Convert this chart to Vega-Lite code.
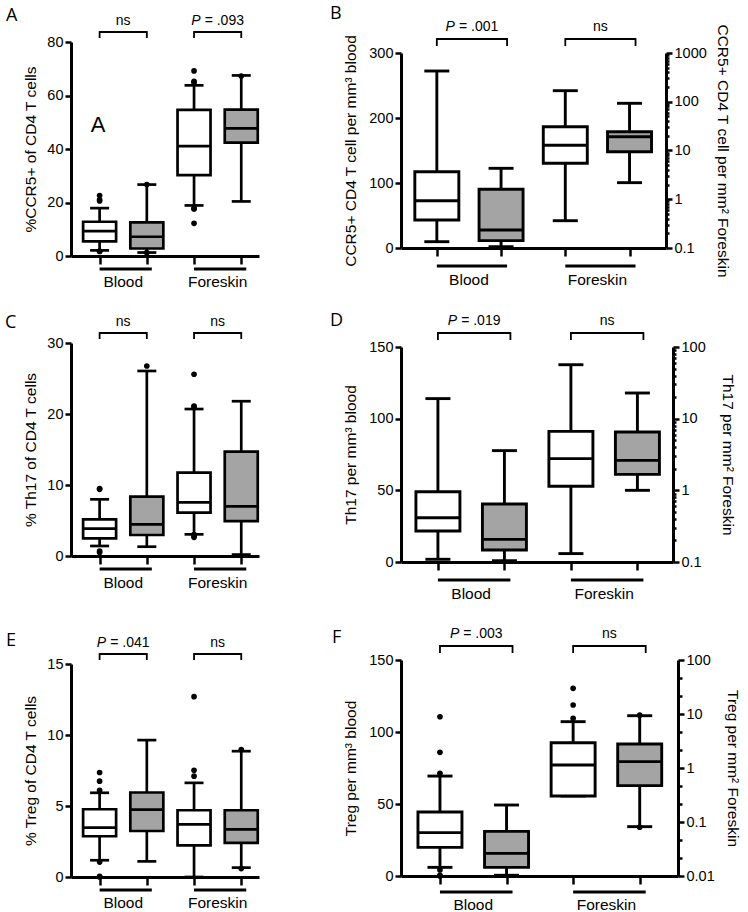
{
"$schema":"https://vega.github.io/schema/vega-lite/v6.json",
"padding":{"left":4,"top":5,"right":2,"bottom":0},
"config":{"view":{"stroke":null},"font":"Liberation Sans",
"axis":{"domainColor":"black","domainWidth":3,"tickColor":"black","tickWidth":2.5,"tickSize":6,"labelColor":"black","labelFontSize":14.5,"labelFont":"Liberation Sans","titleFont":"Liberation Sans","titleFontSize":15.5,"titleFontWeight":"normal","titleColor":"black","grid":false,"labelPadding":2}},
"datasets":{
"boxes":[
{"panel":"A","pos":1,"hatch":0,"min":2.1,"q1":5.5,"med":9.3,"q3":12.8,"max":17.9},
{"panel":"A","pos":2,"hatch":1,"min":1.3,"q1":2.8,"med":7.2,"q3":12.6,"max":26.7},
{"panel":"A","pos":3,"hatch":0,"min":18.9,"q1":30.2,"med":41.1,"q3":54.6,"max":63.8},
{"panel":"A","pos":4,"hatch":1,"min":20.4,"q1":42.4,"med":47.7,"q3":54.7,"max":67.5},
{"panel":"B","pos":1,"hatch":0,"min":9.7,"q1":43.1,"med":72.8,"q3":117.4,"max":272.3},
{"panel":"B","pos":2,"hatch":1,"min":2.0,"q1":11.3,"med":27.7,"q3":90.3,"max":122.6},
{"panel":"B","pos":3,"hatch":0,"min":0.363,"q1":5.46,"med":12.8,"q3":30.8,"max":168.6},
{"panel":"B","pos":4,"hatch":1,"min":2.19,"q1":9.45,"med":19.2,"q3":24.3,"max":92.9},
{"panel":"C","pos":1,"hatch":0,"min":1.41,"q1":2.49,"med":3.85,"q3":5.17,"max":7.98},
{"panel":"C","pos":2,"hatch":1,"min":1.31,"q1":2.96,"med":4.46,"q3":8.36,"max":26.06},
{"panel":"C","pos":3,"hatch":0,"min":3.05,"q1":6.1,"med":7.56,"q3":11.73,"max":20.7},
{"panel":"C","pos":4,"hatch":1,"min":0.2,"q1":4.9,"med":7.0,"q3":14.7,"max":21.8},
{"panel":"D","pos":1,"hatch":0,"min":1.9,"q1":21.6,"med":30.9,"q3":49.0,"max":114},
{"panel":"D","pos":2,"hatch":1,"min":0.9,"q1":8.4,"med":15.8,"q3":40.5,"max":77.7},
{"panel":"D","pos":3,"hatch":0,"min":0.131,"q1":1.14,"med":2.77,"q3":6.65,"max":56.6},
{"panel":"D","pos":4,"hatch":1,"min":1.0,"q1":1.67,"med":2.62,"q3":6.52,"max":22.8},
{"panel":"E","pos":1,"hatch":0,"min":1.18,"q1":2.87,"med":3.48,"q3":4.77,"max":5.93},
{"panel":"E","pos":2,"hatch":1,"min":1.1,"q1":3.24,"med":4.75,"q3":5.95,"max":9.64},
{"panel":"E","pos":3,"hatch":0,"min":0.0,"q1":2.23,"med":3.71,"q3":4.7,"max":6.63},
{"panel":"E","pos":4,"hatch":1,"min":0.66,"q1":2.4,"med":3.36,"q3":4.7,"max":8.86},
{"panel":"F","pos":1,"hatch":0,"min":6.0,"q1":19.9,"med":30.1,"q3":44.4,"max":69.4},
{"panel":"F","pos":2,"hatch":1,"min":0.5,"q1":6.0,"med":15.7,"q3":31.0,"max":49.3},
{"panel":"F","pos":3,"hatch":0,"min":0.303,"q1":0.303,"med":1.14,"q3":2.94,"max":7.21},
{"panel":"F","pos":4,"hatch":1,"min":0.082,"q1":0.471,"med":1.31,"q3":2.78,"max":9.3}
],
"outliers":[
{"panel":"A","pos":1,"v":22.6},{"panel":"A","pos":1,"v":20.6},{"panel":"A","pos":1,"v":21.0},{"panel":"A","pos":1,"v":1.8},{"panel":"A","pos":1,"v":1.7},
{"panel":"A","pos":2,"v":26.7},{"panel":"A","pos":2,"v":1.25},
{"panel":"A","pos":3,"v":69.2},{"panel":"A","pos":3,"v":65.3},{"panel":"A","pos":3,"v":64.8},{"panel":"A","pos":3,"v":17.8},{"panel":"A","pos":3,"v":17.6},{"panel":"A","pos":3,"v":12.2},
{"panel":"A","pos":4,"v":67.3},
{"panel":"C","pos":1,"v":9.39},{"panel":"C","pos":1,"v":9.5},{"panel":"C","pos":1,"v":0.7},{"panel":"C","pos":1,"v":0.5},
{"panel":"C","pos":2,"v":26.76},
{"panel":"C","pos":3,"v":21.0},{"panel":"C","pos":3,"v":21.1},{"panel":"C","pos":3,"v":25.6},{"panel":"C","pos":3,"v":2.63},{"panel":"C","pos":3,"v":3.0},{"panel":"C","pos":3,"v":2.9},
{"panel":"E","pos":1,"v":6.1},{"panel":"E","pos":1,"v":6.75},{"panel":"E","pos":1,"v":7.36},{"panel":"E","pos":1,"v":1.05},{"panel":"E","pos":1,"v":0.05},{"panel":"E","pos":1,"v":0.0},
{"panel":"E","pos":3,"v":7.1},{"panel":"E","pos":3,"v":7.52},{"panel":"E","pos":3,"v":12.7},
{"panel":"E","pos":4,"v":8.98},{"panel":"E","pos":4,"v":0.59},
{"panel":"F","pos":1,"v":71.3},{"panel":"F","pos":1,"v":85.9},{"panel":"F","pos":1,"v":110.6},{"panel":"F","pos":1,"v":4.2},{"panel":"F","pos":1,"v":0.5},{"panel":"F","pos":1,"v":0.0},
{"panel":"F","pos":3,"v":8.3},{"panel":"F","pos":3,"v":14.7},{"panel":"F","pos":3,"v":29.9},
{"panel":"F","pos":4,"v":9.5},{"panel":"F","pos":4,"v":0.08}
],
"brackets":[
{"panel":"A","a":1,"b":2,"c":1.5,"ital":"","txt":"ns"},
{"panel":"A","a":3,"b":4,"c":3.5,"ital":"P","txt":"= .093"},
{"panel":"B","a":1,"b":2,"c":1.5,"ital":"P","txt":"= .001"},
{"panel":"B","a":3,"b":4,"c":3.5,"ital":"","txt":"ns"},
{"panel":"C","a":1,"b":2,"c":1.5,"ital":"","txt":"ns"},
{"panel":"C","a":3,"b":4,"c":3.5,"ital":"","txt":"ns"},
{"panel":"D","a":1,"b":2,"c":1.5,"ital":"P","txt":"= .019"},
{"panel":"D","a":3,"b":4,"c":3.5,"ital":"","txt":"ns"},
{"panel":"E","a":1,"b":2,"c":1.5,"ital":"P","txt":"= .041"},
{"panel":"E","a":3,"b":4,"c":3.5,"ital":"","txt":"ns"},
{"panel":"F","a":1,"b":2,"c":1.5,"ital":"P","txt":"= .003"},
{"panel":"F","a":3,"b":4,"c":3.5,"ital":"","txt":"ns"}
],
"groups":[{"g":"Blood","a":1,"b":2,"c":1.5},{"g":"Foreskin","a":3,"b":4,"c":3.5}]
},
"columns":2,
"bounds":"flush",
"spacing":{"row":40,"column":142},
"concat":[
{"width":188,"height":214,
"layer":[
{"data":{"name":"boxes"},"transform":[{"filter":"datum.panel=='A'"}],"mark":{"type":"rule","strokeWidth":2.7,"color":"black"},
"encoding":{"x":{"field":"pos","type":"quantitative","scale":{"domain":[0.5,4.27],"nice":false,"zero":false},"axis":{"values":[1,2,3,4],"labels":false,"title":null,"tickSize":8}},
"y":{"field":"min","type":"quantitative","scale":{"domain":[0,80],"nice":false},"axis":{"values":[0,20,40,60,80],"title":"%CCR5+ of CD4 T cells","titlePadding":8}},"y2":{"field":"max"}}},
{"data":{"name":"boxes"},"transform":[{"filter":"datum.panel=='A'"}],"mark":{"type":"tick","orient":"horizontal","size":19,"thickness":2.7,"color":"black","opacity":1},"encoding":{"x":{"field":"pos","type":"quantitative"},"y":{"field":"min","type":"quantitative"}}},
{"data":{"name":"boxes"},"transform":[{"filter":"datum.panel=='A'"}],"mark":{"type":"tick","orient":"horizontal","size":19,"thickness":2.7,"color":"black","opacity":1},"encoding":{"x":{"field":"pos","type":"quantitative"},"y":{"field":"max","type":"quantitative"}}},
{"data":{"name":"boxes"},"transform":[{"filter":"datum.panel=='A'"}],"mark":{"type":"bar","width":33,"stroke":"black","strokeWidth":2.7,"opacity":1},"encoding":{"x":{"field":"pos","type":"quantitative"},"y":{"field":"q1","type":"quantitative"},"y2":{"field":"q3"},"fill":{"condition":{"test":"datum.hatch==1","value":"#a4a4a4"},"value":"white"}}},
{"data":{"name":"boxes"},"transform":[{"filter":"datum.panel=='A'"}],"mark":{"type":"tick","orient":"horizontal","size":33,"thickness":2.7,"color":"black","opacity":1},"encoding":{"x":{"field":"pos","type":"quantitative"},"y":{"field":"med","type":"quantitative"}}},
{"data":{"name":"outliers"},"transform":[{"filter":"datum.panel=='A'"}],"mark":{"type":"point","filled":true,"size":32,"color":"black","opacity":1},"encoding":{"x":{"field":"pos","type":"quantitative"},"y":{"field":"v","type":"quantitative"}}},
{"data":{"name":"groups"},"mark":{"type":"rule","strokeWidth":3,"color":"black","yOffset":13,"x2Offset":5},"encoding":{"x":{"field":"a","type":"quantitative"},"x2":{"field":"b"},"y":{"datum":0,"type":"quantitative"}}},
{"data":{"name":"groups"},"mark":{"type":"text","fontSize":15.5,"yOffset":26,"baseline":"middle","color":"black"},"encoding":{"x":{"field":"c","type":"quantitative"},"y":{"datum":0,"type":"quantitative"},"text":{"field":"g"}}},
{"data":{"name":"brackets"},"transform":[{"filter":"datum.panel=='A'"}],"mark":{"type":"rule","strokeWidth":1.8,"color":"black","yOffset":-10},"encoding":{"x":{"field":"a","type":"quantitative"},"x2":{"field":"b"},"y":{"datum":80,"type":"quantitative"}}},
{"data":{"name":"brackets"},"transform":[{"filter":"datum.panel=='A'"}],"mark":{"type":"rule","strokeWidth":1.8,"color":"black","yOffset":-10.9,"y2Offset":-4},"encoding":{"x":{"field":"a","type":"quantitative"},"y":{"datum":80,"type":"quantitative"},"y2":{"datum":80}}},
{"data":{"name":"brackets"},"transform":[{"filter":"datum.panel=='A'"}],"mark":{"type":"rule","strokeWidth":1.8,"color":"black","yOffset":-10.9,"y2Offset":-4},"encoding":{"x":{"field":"b","type":"quantitative"},"y":{"datum":80,"type":"quantitative"},"y2":{"datum":80}}},
{"data":{"name":"brackets"},"transform":[{"filter":"datum.panel=='A' && datum.ital==''"}],"mark":{"type":"text","fontSize":14,"yOffset":-14,"baseline":"bottom","color":"black"},"encoding":{"x":{"field":"c","type":"quantitative"},"y":{"datum":80,"type":"quantitative"},"text":{"field":"txt"}}},
{"data":{"name":"brackets"},"transform":[{"filter":"datum.panel=='A' && datum.ital=='P'"}],"mark":{"type":"text","fontSize":14,"fontStyle":"italic","align":"right","dx":-17,"yOffset":-14,"baseline":"bottom","color":"black"},"encoding":{"x":{"field":"c","type":"quantitative"},"y":{"datum":80,"type":"quantitative"},"text":{"field":"ital"}}},
{"data":{"name":"brackets"},"transform":[{"filter":"datum.panel=='A' && datum.ital=='P'"}],"mark":{"type":"text","fontSize":14,"align":"left","dx":-13,"yOffset":-14,"baseline":"bottom","color":"black"},"encoding":{"x":{"field":"c","type":"quantitative"},"y":{"datum":80,"type":"quantitative"},"text":{"field":"txt"}}},
{"data":{"values":[{"t":"A"}]},"mark":{"type":"text","fontSize":22,"baseline":"middle","color":"black"},"encoding":{"x":{"datum":0.97,"type":"quantitative"},"y":{"datum":49,"type":"quantitative"},"text":{"field":"t"}}},
{"data":{"values":[{"t":"A"}]},"mark":{"type":"text","font":"Open Sans","fontSize":18,"align":"left","baseline":"alphabetic","dx":-70,"dy":-21,"color":"black"},"encoding":{"x":{"datum":0.5,"type":"quantitative"},"y":{"datum":80,"type":"quantitative"},"text":{"field":"t"}}}
]},
{"width":265,"height":206,"resolve":{"scale":{"y":"independent"}},
"layer":[
{"layer":[
{"data":{"name":"boxes"},"transform":[{"filter":"datum.panel=='B' && datum.pos<=2"}],"mark":{"type":"rule","strokeWidth":2.9,"color":"black"},
"encoding":{"x":{"field":"pos","type":"quantitative","scale":{"domain":[0.52,4.49],"nice":false,"zero":false},"axis":{"values":[1,2,3,4],"labels":false,"title":null,"tickSize":8}},
"y":{"field":"min","type":"quantitative","scale":{"domain":[0,300],"nice":false,"range":[206,11]},"axis":{"orient":"left","values":[0,100,200,300],"title":"CCR5+ CD4 T cell per mm³ blood","titlePadding":10}},"y2":{"field":"max"}}},
{"data":{"name":"boxes"},"transform":[{"filter":"datum.panel=='B' && datum.pos<=2"}],"mark":{"type":"tick","orient":"horizontal","size":25,"thickness":2.9,"color":"black","opacity":1},"encoding":{"x":{"field":"pos","type":"quantitative"},"y":{"field":"min","type":"quantitative"}}},
{"data":{"name":"boxes"},"transform":[{"filter":"datum.panel=='B' && datum.pos<=2"}],"mark":{"type":"tick","orient":"horizontal","size":25,"thickness":2.9,"color":"black","opacity":1},"encoding":{"x":{"field":"pos","type":"quantitative"},"y":{"field":"max","type":"quantitative"}}},
{"data":{"name":"boxes"},"transform":[{"filter":"datum.panel=='B' && datum.pos<=2"}],"mark":{"type":"bar","width":44,"stroke":"black","strokeWidth":2.9,"opacity":1},"encoding":{"x":{"field":"pos","type":"quantitative"},"y":{"field":"q1","type":"quantitative"},"y2":{"field":"q3"},"fill":{"condition":{"test":"datum.hatch==1","value":"#a4a4a4"},"value":"white"}}},
{"data":{"name":"boxes"},"transform":[{"filter":"datum.panel=='B' && datum.pos<=2"}],"mark":{"type":"tick","orient":"horizontal","size":44,"thickness":2.9,"color":"black","opacity":1},"encoding":{"x":{"field":"pos","type":"quantitative"},"y":{"field":"med","type":"quantitative"}}},
{"data":{"name":"groups"},"mark":{"type":"rule","strokeWidth":3,"color":"black","yOffset":18,"x2Offset":6},"encoding":{"x":{"field":"a","type":"quantitative"},"x2":{"field":"b"},"y":{"datum":0,"type":"quantitative"}}},
{"data":{"name":"groups"},"mark":{"type":"text","fontSize":15.5,"yOffset":32,"baseline":"middle","color":"black"},"encoding":{"x":{"field":"c","type":"quantitative"},"y":{"datum":0,"type":"quantitative"},"text":{"field":"g"}}},
{"data":{"name":"brackets"},"transform":[{"filter":"datum.panel=='B'"}],"mark":{"type":"rule","strokeWidth":1.8,"color":"black","yOffset":-14,"x2Offset":6},"encoding":{"x":{"field":"a","type":"quantitative"},"x2":{"field":"b"},"y":{"datum":300,"type":"quantitative"}}},
{"data":{"name":"brackets"},"transform":[{"filter":"datum.panel=='B'"}],"mark":{"type":"rule","strokeWidth":1.8,"color":"black","yOffset":-14.9,"y2Offset":-7},"encoding":{"x":{"field":"a","type":"quantitative"},"y":{"datum":300,"type":"quantitative"},"y2":{"datum":300}}},
{"data":{"name":"brackets"},"transform":[{"filter":"datum.panel=='B'"}],"mark":{"type":"rule","strokeWidth":1.8,"color":"black","yOffset":-14.9,"y2Offset":-7,"xOffset":6},"encoding":{"x":{"field":"b","type":"quantitative"},"y":{"datum":300,"type":"quantitative"},"y2":{"datum":300}}},
{"data":{"name":"brackets"},"transform":[{"filter":"datum.panel=='B' && datum.ital==''"}],"mark":{"type":"text","fontSize":14,"yOffset":-19,"dx":3,"baseline":"bottom","color":"black"},"encoding":{"x":{"field":"c","type":"quantitative"},"y":{"datum":300,"type":"quantitative"},"text":{"field":"txt"}}},
{"data":{"name":"brackets"},"transform":[{"filter":"datum.panel=='B' && datum.ital=='P'"}],"mark":{"type":"text","fontSize":14,"fontStyle":"italic","align":"right","dx":-14,"yOffset":-19,"baseline":"bottom","color":"black"},"encoding":{"x":{"field":"c","type":"quantitative"},"y":{"datum":300,"type":"quantitative"},"text":{"field":"ital"}}},
{"data":{"name":"brackets"},"transform":[{"filter":"datum.panel=='B' && datum.ital=='P'"}],"mark":{"type":"text","fontSize":14,"align":"left","dx":-10,"yOffset":-19,"baseline":"bottom","color":"black"},"encoding":{"x":{"field":"c","type":"quantitative"},"y":{"datum":300,"type":"quantitative"},"text":{"field":"txt"}}},
{"data":{"values":[{"t":"B"}]},"mark":{"type":"text","font":"Open Sans","fontSize":18,"align":"left","baseline":"alphabetic","dx":-76,"dy":-34,"color":"black"},"encoding":{"x":{"datum":0.52,"type":"quantitative"},"y":{"datum":300,"type":"quantitative"},"text":{"field":"t"}}}
]},
{"layer":[
{"data":{"name":"boxes"},"transform":[{"filter":"datum.panel=='B' && datum.pos>=3"}],"mark":{"type":"rule","strokeWidth":2.9,"color":"black"},
"encoding":{"x":{"field":"pos","type":"quantitative"},
"y":{"field":"min","type":"quantitative","scale":{"type":"log","domain":[0.1,1000],"nice":false,"range":[206,11]},"axis":{"orient":"right","values":[0.1,0.2,0.3,0.4,0.5,0.6,0.7,0.8,0.9,1,2,3,4,5,6,7,8,9,10,20,30,40,50,60,70,80,90,100,200,300,400,500,600,700,800,900,1000],"labelExpr":"abs(log(datum.value)/LN10-round(log(datum.value)/LN10))<0.001 ? format(datum.value,'') : ''","labelOverlap":false,"tickSize":{"condition":{"test":"abs(log(datum.value)/LN10-round(log(datum.value)/LN10))<0.001","value":6},"value":3},"title":"CCR5+ CD4 T cell per mm² Foreskin","titlePadding":8}},"y2":{"field":"max"}}},
{"data":{"name":"boxes"},"transform":[{"filter":"datum.panel=='B' && datum.pos>=3"}],"mark":{"type":"tick","orient":"horizontal","size":25,"thickness":2.9,"color":"black","opacity":1},"encoding":{"x":{"field":"pos","type":"quantitative"},"y":{"field":"min","type":"quantitative"}}},
{"data":{"name":"boxes"},"transform":[{"filter":"datum.panel=='B' && datum.pos>=3"}],"mark":{"type":"tick","orient":"horizontal","size":25,"thickness":2.9,"color":"black","opacity":1},"encoding":{"x":{"field":"pos","type":"quantitative"},"y":{"field":"max","type":"quantitative"}}},
{"data":{"name":"boxes"},"transform":[{"filter":"datum.panel=='B' && datum.pos>=3"}],"mark":{"type":"bar","width":44,"stroke":"black","strokeWidth":2.9,"opacity":1},"encoding":{"x":{"field":"pos","type":"quantitative"},"y":{"field":"q1","type":"quantitative"},"y2":{"field":"q3"},"fill":{"condition":{"test":"datum.hatch==1","value":"#a4a4a4"},"value":"white"}}},
{"data":{"name":"boxes"},"transform":[{"filter":"datum.panel=='B' && datum.pos>=3"}],"mark":{"type":"tick","orient":"horizontal","size":44,"thickness":2.9,"color":"black","opacity":1},"encoding":{"x":{"field":"pos","type":"quantitative"},"y":{"field":"med","type":"quantitative"}}}
]}
]},
{"width":188,"height":260,
"layer":[
{"data":{"name":"boxes"},"transform":[{"filter":"datum.panel=='C'"}],"mark":{"type":"rule","strokeWidth":2.7,"color":"black"},
"encoding":{"x":{"field":"pos","type":"quantitative","scale":{"domain":[0.5,4.27],"nice":false,"zero":false},"axis":{"values":[1,2,3,4],"labels":false,"title":null,"tickSize":8}},
"y":{"field":"min","type":"quantitative","scale":{"domain":[0,30],"nice":false,"range":[260,47]},"axis":{"values":[0,10,20,30],"title":"% Th17 of CD4 T cells","titlePadding":8}},"y2":{"field":"max"}}},
{"data":{"name":"boxes"},"transform":[{"filter":"datum.panel=='C'"}],"mark":{"type":"tick","orient":"horizontal","size":19,"thickness":2.7,"color":"black","opacity":1},"encoding":{"x":{"field":"pos","type":"quantitative"},"y":{"field":"min","type":"quantitative"}}},
{"data":{"name":"boxes"},"transform":[{"filter":"datum.panel=='C'"}],"mark":{"type":"tick","orient":"horizontal","size":19,"thickness":2.7,"color":"black","opacity":1},"encoding":{"x":{"field":"pos","type":"quantitative"},"y":{"field":"max","type":"quantitative"}}},
{"data":{"name":"boxes"},"transform":[{"filter":"datum.panel=='C'"}],"mark":{"type":"bar","width":33,"stroke":"black","strokeWidth":2.7,"opacity":1},"encoding":{"x":{"field":"pos","type":"quantitative"},"y":{"field":"q1","type":"quantitative"},"y2":{"field":"q3"},"fill":{"condition":{"test":"datum.hatch==1","value":"#a4a4a4"},"value":"white"}}},
{"data":{"name":"boxes"},"transform":[{"filter":"datum.panel=='C'"}],"mark":{"type":"tick","orient":"horizontal","size":33,"thickness":2.7,"color":"black","opacity":1},"encoding":{"x":{"field":"pos","type":"quantitative"},"y":{"field":"med","type":"quantitative"}}},
{"data":{"name":"outliers"},"transform":[{"filter":"datum.panel=='C'"}],"mark":{"type":"point","filled":true,"size":32,"color":"black","opacity":1},"encoding":{"x":{"field":"pos","type":"quantitative"},"y":{"field":"v","type":"quantitative"}}},
{"data":{"name":"groups"},"mark":{"type":"rule","strokeWidth":3,"color":"black","yOffset":13,"x2Offset":5},"encoding":{"x":{"field":"a","type":"quantitative"},"x2":{"field":"b"},"y":{"datum":0,"type":"quantitative"}}},
{"data":{"name":"groups"},"mark":{"type":"text","fontSize":15.5,"yOffset":27,"baseline":"middle","color":"black"},"encoding":{"x":{"field":"c","type":"quantitative"},"y":{"datum":0,"type":"quantitative"},"text":{"field":"g"}}},
{"data":{"name":"brackets"},"transform":[{"filter":"datum.panel=='C'"}],"mark":{"type":"rule","strokeWidth":1.8,"color":"black","yOffset":-10},"encoding":{"x":{"field":"a","type":"quantitative"},"x2":{"field":"b"},"y":{"datum":30,"type":"quantitative"}}},
{"data":{"name":"brackets"},"transform":[{"filter":"datum.panel=='C'"}],"mark":{"type":"rule","strokeWidth":1.8,"color":"black","yOffset":-10.9,"y2Offset":-4},"encoding":{"x":{"field":"a","type":"quantitative"},"y":{"datum":30,"type":"quantitative"},"y2":{"datum":30}}},
{"data":{"name":"brackets"},"transform":[{"filter":"datum.panel=='C'"}],"mark":{"type":"rule","strokeWidth":1.8,"color":"black","yOffset":-10.9,"y2Offset":-4},"encoding":{"x":{"field":"b","type":"quantitative"},"y":{"datum":30,"type":"quantitative"},"y2":{"datum":30}}},
{"data":{"name":"brackets"},"transform":[{"filter":"datum.panel=='C' && datum.ital==''"}],"mark":{"type":"text","fontSize":14,"yOffset":-14,"baseline":"bottom","color":"black"},"encoding":{"x":{"field":"c","type":"quantitative"},"y":{"datum":30,"type":"quantitative"},"text":{"field":"txt"}}},
{"data":{"values":[{"t":"C"}]},"mark":{"type":"text","font":"Open Sans","fontSize":18,"align":"left","baseline":"alphabetic","dx":-71,"dy":-15,"color":"black"},"encoding":{"x":{"datum":0.5,"type":"quantitative"},"y":{"datum":30,"type":"quantitative"},"text":{"field":"t"}}}
]},
{"width":272,"height":266,"resolve":{"scale":{"y":"independent"}},
"layer":[
{"layer":[
{"data":{"name":"boxes"},"transform":[{"filter":"datum.panel=='D' && datum.pos<=2"}],"mark":{"type":"rule","strokeWidth":2.9,"color":"black"},
"encoding":{"x":{"field":"pos","type":"quantitative","scale":{"domain":[0.52,4.46],"nice":false,"zero":false},"axis":{"values":[1,2,3,4],"labels":false,"title":null,"tickSize":8}},
"y":{"field":"min","type":"quantitative","scale":{"domain":[0,150],"nice":false,"range":[266,51]},"axis":{"orient":"left","values":[0,50,100,150],"title":"Th17 per mm³ blood","titlePadding":10}},"y2":{"field":"max"}}},
{"data":{"name":"boxes"},"transform":[{"filter":"datum.panel=='D' && datum.pos<=2"}],"mark":{"type":"tick","orient":"horizontal","size":25,"thickness":2.9,"color":"black","opacity":1},"encoding":{"x":{"field":"pos","type":"quantitative"},"y":{"field":"min","type":"quantitative"}}},
{"data":{"name":"boxes"},"transform":[{"filter":"datum.panel=='D' && datum.pos<=2"}],"mark":{"type":"tick","orient":"horizontal","size":25,"thickness":2.9,"color":"black","opacity":1},"encoding":{"x":{"field":"pos","type":"quantitative"},"y":{"field":"max","type":"quantitative"}}},
{"data":{"name":"boxes"},"transform":[{"filter":"datum.panel=='D' && datum.pos<=2"}],"mark":{"type":"bar","width":44,"stroke":"black","strokeWidth":2.9,"opacity":1},"encoding":{"x":{"field":"pos","type":"quantitative"},"y":{"field":"q1","type":"quantitative"},"y2":{"field":"q3"},"fill":{"condition":{"test":"datum.hatch==1","value":"#a4a4a4"},"value":"white"}}},
{"data":{"name":"boxes"},"transform":[{"filter":"datum.panel=='D' && datum.pos<=2"}],"mark":{"type":"tick","orient":"horizontal","size":44,"thickness":2.9,"color":"black","opacity":1},"encoding":{"x":{"field":"pos","type":"quantitative"},"y":{"field":"med","type":"quantitative"}}},
{"data":{"name":"groups"},"mark":{"type":"rule","strokeWidth":3,"color":"black","yOffset":18,"x2Offset":6},"encoding":{"x":{"field":"a","type":"quantitative"},"x2":{"field":"b"},"y":{"datum":0,"type":"quantitative"}}},
{"data":{"name":"groups"},"mark":{"type":"text","fontSize":15.5,"yOffset":32,"baseline":"middle","color":"black"},"encoding":{"x":{"field":"c","type":"quantitative"},"y":{"datum":0,"type":"quantitative"},"text":{"field":"g"}}},
{"data":{"name":"brackets"},"transform":[{"filter":"datum.panel=='D'"}],"mark":{"type":"rule","strokeWidth":1.8,"color":"black","yOffset":-14,"x2Offset":6},"encoding":{"x":{"field":"a","type":"quantitative"},"x2":{"field":"b"},"y":{"datum":150,"type":"quantitative"}}},
{"data":{"name":"brackets"},"transform":[{"filter":"datum.panel=='D'"}],"mark":{"type":"rule","strokeWidth":1.8,"color":"black","yOffset":-14.9,"y2Offset":-7},"encoding":{"x":{"field":"a","type":"quantitative"},"y":{"datum":150,"type":"quantitative"},"y2":{"datum":150}}},
{"data":{"name":"brackets"},"transform":[{"filter":"datum.panel=='D'"}],"mark":{"type":"rule","strokeWidth":1.8,"color":"black","yOffset":-14.9,"y2Offset":-7,"xOffset":6},"encoding":{"x":{"field":"b","type":"quantitative"},"y":{"datum":150,"type":"quantitative"},"y2":{"datum":150}}},
{"data":{"name":"brackets"},"transform":[{"filter":"datum.panel=='D' && datum.ital==''"}],"mark":{"type":"text","fontSize":14,"yOffset":-19,"dx":3,"baseline":"bottom","color":"black"},"encoding":{"x":{"field":"c","type":"quantitative"},"y":{"datum":150,"type":"quantitative"},"text":{"field":"txt"}}},
{"data":{"name":"brackets"},"transform":[{"filter":"datum.panel=='D' && datum.ital=='P'"}],"mark":{"type":"text","fontSize":14,"fontStyle":"italic","align":"right","dx":-14,"yOffset":-19,"baseline":"bottom","color":"black"},"encoding":{"x":{"field":"c","type":"quantitative"},"y":{"datum":150,"type":"quantitative"},"text":{"field":"ital"}}},
{"data":{"name":"brackets"},"transform":[{"filter":"datum.panel=='D' && datum.ital=='P'"}],"mark":{"type":"text","fontSize":14,"align":"left","dx":-10,"yOffset":-19,"baseline":"bottom","color":"black"},"encoding":{"x":{"field":"c","type":"quantitative"},"y":{"datum":150,"type":"quantitative"},"text":{"field":"txt"}}},
{"data":{"values":[{"t":"D"}]},"mark":{"type":"text","font":"Open Sans","fontSize":18,"align":"left","baseline":"alphabetic","dx":-76,"dy":-21,"color":"black"},"encoding":{"x":{"datum":0.52,"type":"quantitative"},"y":{"datum":150,"type":"quantitative"},"text":{"field":"t"}}}
]},
{"layer":[
{"data":{"name":"boxes"},"transform":[{"filter":"datum.panel=='D' && datum.pos>=3"}],"mark":{"type":"rule","strokeWidth":2.9,"color":"black"},
"encoding":{"x":{"field":"pos","type":"quantitative"},
"y":{"field":"min","type":"quantitative","scale":{"type":"log","domain":[0.1,100],"nice":false,"range":[266,51]},"axis":{"orient":"right","values":[0.1,0.2,0.3,0.4,0.5,0.6,0.7,0.8,0.9,1,2,3,4,5,6,7,8,9,10,20,30,40,50,60,70,80,90,100],"labelExpr":"abs(log(datum.value)/LN10-round(log(datum.value)/LN10))<0.001 ? format(datum.value,'') : ''","labelOverlap":false,"tickSize":{"condition":{"test":"abs(log(datum.value)/LN10-round(log(datum.value)/LN10))<0.001","value":6},"value":3},"title":"Th17 per mm² Foreskin","titlePadding":14}},"y2":{"field":"max"}}},
{"data":{"name":"boxes"},"transform":[{"filter":"datum.panel=='D' && datum.pos>=3"}],"mark":{"type":"tick","orient":"horizontal","size":25,"thickness":2.9,"color":"black","opacity":1},"encoding":{"x":{"field":"pos","type":"quantitative"},"y":{"field":"min","type":"quantitative"}}},
{"data":{"name":"boxes"},"transform":[{"filter":"datum.panel=='D' && datum.pos>=3"}],"mark":{"type":"tick","orient":"horizontal","size":25,"thickness":2.9,"color":"black","opacity":1},"encoding":{"x":{"field":"pos","type":"quantitative"},"y":{"field":"max","type":"quantitative"}}},
{"data":{"name":"boxes"},"transform":[{"filter":"datum.panel=='D' && datum.pos>=3"}],"mark":{"type":"bar","width":44,"stroke":"black","strokeWidth":2.9,"opacity":1},"encoding":{"x":{"field":"pos","type":"quantitative"},"y":{"field":"q1","type":"quantitative"},"y2":{"field":"q3"},"fill":{"condition":{"test":"datum.hatch==1","value":"#a4a4a4"},"value":"white"}}},
{"data":{"name":"boxes"},"transform":[{"filter":"datum.panel=='D' && datum.pos>=3"}],"mark":{"type":"tick","orient":"horizontal","size":44,"thickness":2.9,"color":"black","opacity":1},"encoding":{"x":{"field":"pos","type":"quantitative"},"y":{"field":"med","type":"quantitative"}}}
]}
]},
{"width":188,"height":275,
"layer":[
{"data":{"name":"boxes"},"transform":[{"filter":"datum.panel=='E'"}],"mark":{"type":"rule","strokeWidth":2.7,"color":"black"},
"encoding":{"x":{"field":"pos","type":"quantitative","scale":{"domain":[0.5,4.27],"nice":false,"zero":false},"axis":{"values":[1,2,3,4],"labels":false,"title":null,"tickSize":8}},
"y":{"field":"min","type":"quantitative","scale":{"domain":[0,15],"nice":false,"range":[275,62]},"axis":{"values":[0,5,10,15],"title":"% Treg of CD4 T cells","titlePadding":8}},"y2":{"field":"max"}}},
{"data":{"name":"boxes"},"transform":[{"filter":"datum.panel=='E'"}],"mark":{"type":"tick","orient":"horizontal","size":19,"thickness":2.7,"color":"black","opacity":1},"encoding":{"x":{"field":"pos","type":"quantitative"},"y":{"field":"min","type":"quantitative"}}},
{"data":{"name":"boxes"},"transform":[{"filter":"datum.panel=='E'"}],"mark":{"type":"tick","orient":"horizontal","size":19,"thickness":2.7,"color":"black","opacity":1},"encoding":{"x":{"field":"pos","type":"quantitative"},"y":{"field":"max","type":"quantitative"}}},
{"data":{"name":"boxes"},"transform":[{"filter":"datum.panel=='E'"}],"mark":{"type":"bar","width":33,"stroke":"black","strokeWidth":2.7,"opacity":1},"encoding":{"x":{"field":"pos","type":"quantitative"},"y":{"field":"q1","type":"quantitative"},"y2":{"field":"q3"},"fill":{"condition":{"test":"datum.hatch==1","value":"#a4a4a4"},"value":"white"}}},
{"data":{"name":"boxes"},"transform":[{"filter":"datum.panel=='E'"}],"mark":{"type":"tick","orient":"horizontal","size":33,"thickness":2.7,"color":"black","opacity":1},"encoding":{"x":{"field":"pos","type":"quantitative"},"y":{"field":"med","type":"quantitative"}}},
{"data":{"name":"outliers"},"transform":[{"filter":"datum.panel=='E'"}],"mark":{"type":"point","filled":true,"size":32,"color":"black","opacity":1},"encoding":{"x":{"field":"pos","type":"quantitative"},"y":{"field":"v","type":"quantitative"}}},
{"data":{"name":"groups"},"mark":{"type":"rule","strokeWidth":3,"color":"black","yOffset":13,"x2Offset":5},"encoding":{"x":{"field":"a","type":"quantitative"},"x2":{"field":"b"},"y":{"datum":0,"type":"quantitative"}}},
{"data":{"name":"groups"},"mark":{"type":"text","fontSize":15.5,"yOffset":26,"baseline":"middle","color":"black"},"encoding":{"x":{"field":"c","type":"quantitative"},"y":{"datum":0,"type":"quantitative"},"text":{"field":"g"}}},
{"data":{"name":"brackets"},"transform":[{"filter":"datum.panel=='E'"}],"mark":{"type":"rule","strokeWidth":1.8,"color":"black","yOffset":-10},"encoding":{"x":{"field":"a","type":"quantitative"},"x2":{"field":"b"},"y":{"datum":15,"type":"quantitative"}}},
{"data":{"name":"brackets"},"transform":[{"filter":"datum.panel=='E'"}],"mark":{"type":"rule","strokeWidth":1.8,"color":"black","yOffset":-10.9,"y2Offset":-4},"encoding":{"x":{"field":"a","type":"quantitative"},"y":{"datum":15,"type":"quantitative"},"y2":{"datum":15}}},
{"data":{"name":"brackets"},"transform":[{"filter":"datum.panel=='E'"}],"mark":{"type":"rule","strokeWidth":1.8,"color":"black","yOffset":-10.9,"y2Offset":-4},"encoding":{"x":{"field":"b","type":"quantitative"},"y":{"datum":15,"type":"quantitative"},"y2":{"datum":15}}},
{"data":{"name":"brackets"},"transform":[{"filter":"datum.panel=='E' && datum.ital==''"}],"mark":{"type":"text","fontSize":14,"yOffset":-14,"baseline":"bottom","color":"black"},"encoding":{"x":{"field":"c","type":"quantitative"},"y":{"datum":15,"type":"quantitative"},"text":{"field":"txt"}}},
{"data":{"name":"brackets"},"transform":[{"filter":"datum.panel=='E' && datum.ital=='P'"}],"mark":{"type":"text","fontSize":14,"fontStyle":"italic","align":"right","dx":-17,"yOffset":-14,"baseline":"bottom","color":"black"},"encoding":{"x":{"field":"c","type":"quantitative"},"y":{"datum":15,"type":"quantitative"},"text":{"field":"ital"}}},
{"data":{"name":"brackets"},"transform":[{"filter":"datum.panel=='E' && datum.ital=='P'"}],"mark":{"type":"text","fontSize":14,"align":"left","dx":-13,"yOffset":-14,"baseline":"bottom","color":"black"},"encoding":{"x":{"field":"c","type":"quantitative"},"y":{"datum":15,"type":"quantitative"},"text":{"field":"txt"}}},
{"data":{"values":[{"t":"E"}]},"mark":{"type":"text","font":"Open Sans","fontSize":18,"align":"left","baseline":"alphabetic","dx":-70,"dy":-18,"color":"black"},"encoding":{"x":{"datum":0.5,"type":"quantitative"},"y":{"datum":15,"type":"quantitative"},"text":{"field":"t"}}}
]},
{"width":277,"height":274,"resolve":{"scale":{"y":"independent"}},
"layer":[
{"layer":[
{"data":{"name":"boxes"},"transform":[{"filter":"datum.panel=='F' && datum.pos<=2"}],"mark":{"type":"rule","strokeWidth":2.9,"color":"black"},
"encoding":{"x":{"field":"pos","type":"quantitative","scale":{"domain":[0.49,4.5],"nice":false,"zero":false},"axis":{"values":[1,2,3,4],"labels":false,"title":null,"tickSize":8}},
"y":{"field":"min","type":"quantitative","scale":{"domain":[0,150],"nice":false,"range":[274,58]},"axis":{"orient":"left","values":[0,50,100,150],"title":"Treg per mm³ blood","titlePadding":10}},"y2":{"field":"max"}}},
{"data":{"name":"boxes"},"transform":[{"filter":"datum.panel=='F' && datum.pos<=2"}],"mark":{"type":"tick","orient":"horizontal","size":25,"thickness":2.9,"color":"black","opacity":1},"encoding":{"x":{"field":"pos","type":"quantitative"},"y":{"field":"min","type":"quantitative"}}},
{"data":{"name":"boxes"},"transform":[{"filter":"datum.panel=='F' && datum.pos<=2"}],"mark":{"type":"tick","orient":"horizontal","size":25,"thickness":2.9,"color":"black","opacity":1},"encoding":{"x":{"field":"pos","type":"quantitative"},"y":{"field":"max","type":"quantitative"}}},
{"data":{"name":"boxes"},"transform":[{"filter":"datum.panel=='F' && datum.pos<=2"}],"mark":{"type":"bar","width":44,"stroke":"black","strokeWidth":2.9,"opacity":1},"encoding":{"x":{"field":"pos","type":"quantitative"},"y":{"field":"q1","type":"quantitative"},"y2":{"field":"q3"},"fill":{"condition":{"test":"datum.hatch==1","value":"#a4a4a4"},"value":"white"}}},
{"data":{"name":"boxes"},"transform":[{"filter":"datum.panel=='F' && datum.pos<=2"}],"mark":{"type":"tick","orient":"horizontal","size":44,"thickness":2.9,"color":"black","opacity":1},"encoding":{"x":{"field":"pos","type":"quantitative"},"y":{"field":"med","type":"quantitative"}}},
{"data":{"name":"outliers"},"transform":[{"filter":"datum.panel=='F' && datum.pos<=2"}],"mark":{"type":"point","filled":true,"size":32,"color":"black","opacity":1},"encoding":{"x":{"field":"pos","type":"quantitative"},"y":{"field":"v","type":"quantitative"}}},
{"data":{"name":"groups"},"mark":{"type":"rule","strokeWidth":3,"color":"black","yOffset":16,"x2Offset":6},"encoding":{"x":{"field":"a","type":"quantitative"},"x2":{"field":"b"},"y":{"datum":0,"type":"quantitative"}}},
{"data":{"name":"groups"},"mark":{"type":"text","fontSize":15.5,"yOffset":29,"baseline":"middle","color":"black"},"encoding":{"x":{"field":"c","type":"quantitative"},"y":{"datum":0,"type":"quantitative"},"text":{"field":"g"}}},
{"data":{"name":"brackets"},"transform":[{"filter":"datum.panel=='F'"}],"mark":{"type":"rule","strokeWidth":1.8,"color":"black","yOffset":-14,"x2Offset":6},"encoding":{"x":{"field":"a","type":"quantitative"},"x2":{"field":"b"},"y":{"datum":150,"type":"quantitative"}}},
{"data":{"name":"brackets"},"transform":[{"filter":"datum.panel=='F'"}],"mark":{"type":"rule","strokeWidth":1.8,"color":"black","yOffset":-14.9,"y2Offset":-7},"encoding":{"x":{"field":"a","type":"quantitative"},"y":{"datum":150,"type":"quantitative"},"y2":{"datum":150}}},
{"data":{"name":"brackets"},"transform":[{"filter":"datum.panel=='F'"}],"mark":{"type":"rule","strokeWidth":1.8,"color":"black","yOffset":-14.9,"y2Offset":-7,"xOffset":6},"encoding":{"x":{"field":"b","type":"quantitative"},"y":{"datum":150,"type":"quantitative"},"y2":{"datum":150}}},
{"data":{"name":"brackets"},"transform":[{"filter":"datum.panel=='F' && datum.ital==''"}],"mark":{"type":"text","fontSize":14,"yOffset":-19,"dx":3,"baseline":"bottom","color":"black"},"encoding":{"x":{"field":"c","type":"quantitative"},"y":{"datum":150,"type":"quantitative"},"text":{"field":"txt"}}},
{"data":{"name":"brackets"},"transform":[{"filter":"datum.panel=='F' && datum.ital=='P'"}],"mark":{"type":"text","fontSize":14,"fontStyle":"italic","align":"right","dx":-14,"yOffset":-19,"baseline":"bottom","color":"black"},"encoding":{"x":{"field":"c","type":"quantitative"},"y":{"datum":150,"type":"quantitative"},"text":{"field":"ital"}}},
{"data":{"name":"brackets"},"transform":[{"filter":"datum.panel=='F' && datum.ital=='P'"}],"mark":{"type":"text","fontSize":14,"align":"left","dx":-10,"yOffset":-19,"baseline":"bottom","color":"black"},"encoding":{"x":{"field":"c","type":"quantitative"},"y":{"datum":150,"type":"quantitative"},"text":{"field":"txt"}}},
{"data":{"values":[{"t":"F"}]},"mark":{"type":"text","font":"Open Sans","fontSize":18,"align":"left","baseline":"alphabetic","dx":-74,"dy":-17,"color":"black"},"encoding":{"x":{"datum":0.49,"type":"quantitative"},"y":{"datum":150,"type":"quantitative"},"text":{"field":"t"}}}
]},
{"layer":[
{"data":{"name":"boxes"},"transform":[{"filter":"datum.panel=='F' && datum.pos>=3"}],"mark":{"type":"rule","strokeWidth":2.9,"color":"black"},
"encoding":{"x":{"field":"pos","type":"quantitative"},
"y":{"field":"min","type":"quantitative","scale":{"type":"log","domain":[0.01,100],"nice":false,"range":[274,58]},"axis":{"orient":"right","values":[0.01,0.02154,0.04642,0.1,0.2154,0.4642,1,2.154,4.642,10,21.54,46.42,100],"labelExpr":"abs(log(datum.value)/LN10-round(log(datum.value)/LN10))<0.001 ? format(datum.value,'') : ''","labelOverlap":false,"tickSize":{"condition":{"test":"abs(log(datum.value)/LN10-round(log(datum.value)/LN10))<0.001","value":6},"value":4},"title":"Treg per mm² Foreskin","titlePadding":10}},"y2":{"field":"max"}}},
{"data":{"name":"boxes"},"transform":[{"filter":"datum.panel=='F' && datum.pos>=3"}],"mark":{"type":"tick","orient":"horizontal","size":25,"thickness":2.9,"color":"black","opacity":1},"encoding":{"x":{"field":"pos","type":"quantitative"},"y":{"field":"min","type":"quantitative"}}},
{"data":{"name":"boxes"},"transform":[{"filter":"datum.panel=='F' && datum.pos>=3"}],"mark":{"type":"tick","orient":"horizontal","size":25,"thickness":2.9,"color":"black","opacity":1},"encoding":{"x":{"field":"pos","type":"quantitative"},"y":{"field":"max","type":"quantitative"}}},
{"data":{"name":"boxes"},"transform":[{"filter":"datum.panel=='F' && datum.pos>=3"}],"mark":{"type":"bar","width":44,"stroke":"black","strokeWidth":2.9,"opacity":1},"encoding":{"x":{"field":"pos","type":"quantitative"},"y":{"field":"q1","type":"quantitative"},"y2":{"field":"q3"},"fill":{"condition":{"test":"datum.hatch==1","value":"#a4a4a4"},"value":"white"}}},
{"data":{"name":"boxes"},"transform":[{"filter":"datum.panel=='F' && datum.pos>=3"}],"mark":{"type":"tick","orient":"horizontal","size":44,"thickness":2.9,"color":"black","opacity":1},"encoding":{"x":{"field":"pos","type":"quantitative"},"y":{"field":"med","type":"quantitative"}}},
{"data":{"name":"outliers"},"transform":[{"filter":"datum.panel=='F' && datum.pos>=3"}],"mark":{"type":"point","filled":true,"size":32,"color":"black","opacity":1},"encoding":{"x":{"field":"pos","type":"quantitative"},"y":{"field":"v","type":"quantitative"}}}
]}
]}
]
}
